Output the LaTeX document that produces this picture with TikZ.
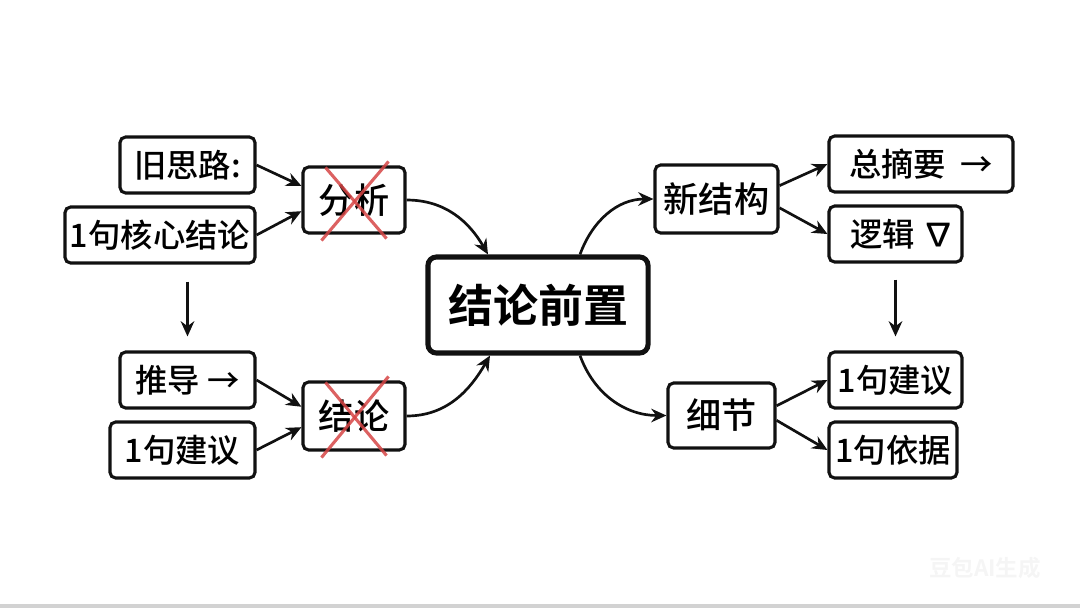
\documentclass[tikz,border=0pt]{standalone}
\usepackage{fontspec}
\setmainfont{Noto Sans CJK SC Medium}[BoldFont={Noto Sans CJK SC Bold}]
\usepackage{xcolor}
\usetikzlibrary{arrows.meta,positioning}
\definecolor{ink}{HTML}{111111}
\definecolor{crossred}{HTML}{D64545}

\begin{document}
\begin{tikzpicture}[x=0.025cm,y=-0.025cm,
  sbox/.style={rectangle,rounded corners=4pt,draw=ink,line width=2.2pt,minimum height=1.4cm,align=center,font=\fontsize{23}{26}\selectfont},
  mbox/.style={sbox,minimum height=1.65cm,font=\fontsize{25}{28}\selectfont},
  cbox/.style={rectangle,rounded corners=6pt,draw=ink,line width=3.6pt,minimum width=5.5cm,minimum height=2.4cm,font=\fontsize{32}{36}\selectfont\bfseries},
  arr/.style={-{Stealth[length=3.8mm,width=3.4mm]},line width=1.9pt,ink},
  xmark/.style={crossred,line width=2.2pt,opacity=0.85}]
\useasboundingbox (0,0) rectangle (1080,608);
\fill[gray!35] (0,604) rectangle (1080,608);
% left side
\node[sbox,minimum width=3.375cm] (old) at (187.5,165) {旧思路:};
\node[sbox,minimum width=4.75cm] (core) at (160,235) {1句核心结论};
\node[mbox,minimum width=2.55cm] (ana) at (354,200) {分析};
\node[sbox,minimum width=3.375cm] (derive) at (187.5,380) {推导 →};
\node[sbox,minimum width=3.625cm] (lsug) at (182.5,450) {1句建议};
\node[mbox,minimum width=2.55cm,minimum height=1.7cm] (conc) at (354,416) {结论};
% centre
\node[cbox] (main) at (538,305) {结论前置};
% right side
\node[mbox,minimum width=3.075cm,minimum height=1.7cm] (newst) at (716.5,199) {新结构};
\node[sbox,minimum width=4.6cm] (summ) at (921,164) {总摘要\ \ →};
\node[sbox,minimum width=3.325cm] (logic) at (895.5,234) {\ \ 逻辑 ∇};
\node[sbox,minimum width=3.325cm] (rsug) at (895.5,380) {1句建议};
\node[mbox,minimum width=2.675cm,minimum height=1.625cm] (detail) at (721.5,415.5) {细节};
\node[sbox,minimum width=3.2cm] (basis) at (893,450) {1句依据};
% crossed out
\foreach \n in {ana,conc} {
  \draw[xmark] ([xshift=-0.45cm,yshift=0.1cm]\n.north east) -- ([xshift=0.5cm,yshift=-0.15cm]\n.south west);
  \draw[xmark] ([xshift=0.6cm,yshift=-0.05cm]\n.north west) -- ([xshift=-0.5cm,yshift=-0.1cm]\n.south east);
}
% arrows
\draw[arr] (old.east) -- (ana.165);
\draw[arr] (core.east) -- (ana.192);
\draw[arr] (derive.east) -- (conc.170);
\draw[arr] (lsug.east) -- (conc.192);
\draw[arr] ([yshift=-0.425cm]derive.north |- core.south) -- ([yshift=0.35cm]derive.north);
\draw[arr] ([yshift=-0.4cm]logic.south) -- ([yshift=0.35cm]rsug.north);
\draw[arr] (ana.east) to[out=0,in=120] ([xshift=-1.25cm]main.north);
\draw[arr] (conc.east) to[out=0,in=240] ([xshift=-1.2cm]main.south);
\draw[arr] ([xshift=1.05cm]main.north) to[out=70,in=180] (newst.west);
\draw[arr] ([xshift=1.05cm]main.south) to[out=-70,in=180] (detail.west);
\foreach \a/\b in {newst.12/summ.west,newst.-8/logic.west,detail.10/rsug.west,detail.-5/basis.west}
  \draw[arr] (\a) -- (\b);
% watermark
\node[text=gray!8,font=\fontsize{16}{18}\selectfont\bfseries] (mark) at (985,568) {豆包AI生成};
\end{tikzpicture}
\end{document}
